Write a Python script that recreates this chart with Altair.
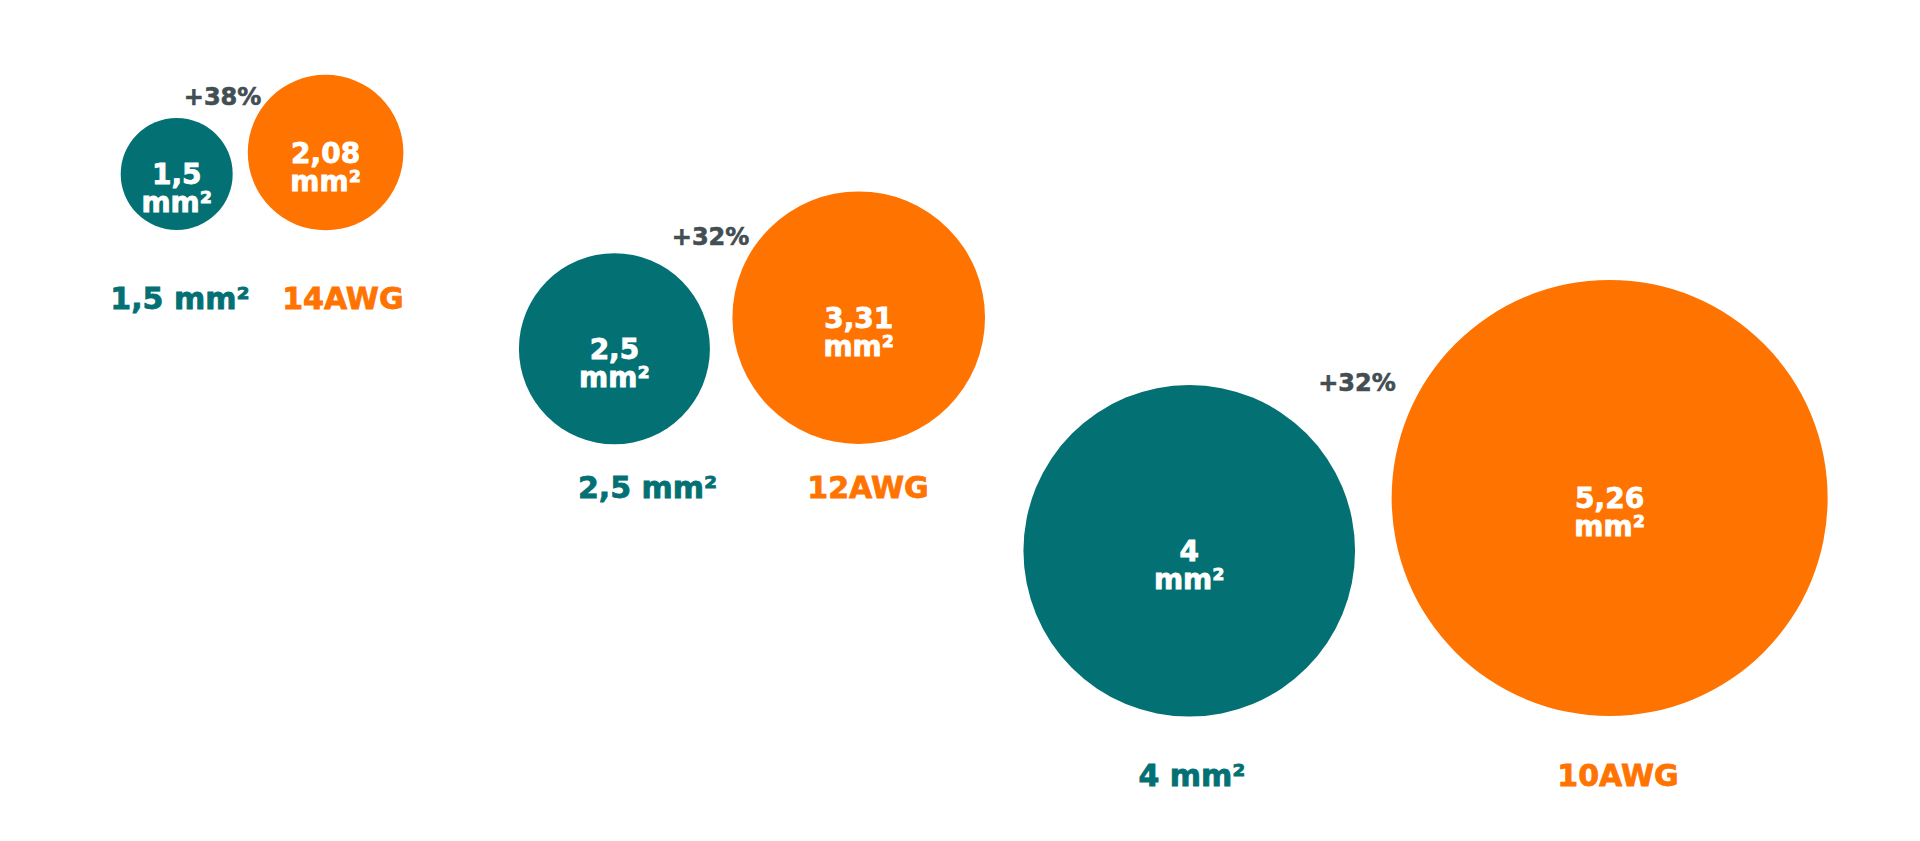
import altair as alt
import pandas as pd

# ---- data values ----
metric_sizes = ["1,5", "2,5", "4"]          # mm² (metric section)
metric_area = [1.5, 2.5, 4.0]
awg_names = ["14AWG", "12AWG", "10AWG"]
awg_area_txt = ["2,08", "3,31", "5,26"]
awg_area = [2.08, 3.31, 5.26]
increase = ["+38%", "+32%", "+32%"]

# ---- layout (percent of plot width / height, top-down) ----
metric_x = [8.86, 31.85, 62.04]
metric_y = [20.12, 41.30, 65.79]
awg_x = [16.68, 44.68, 84.12]
awg_y = [17.52, 37.54, 59.39]
metric_lab_x = [9.03, 33.59, 62.18]
awg_lab_x = [17.59, 45.17, 84.56]
lab_y = [35.39, 58.30, 93.21]
pct_x = [11.27, 36.90, 70.85]
pct_y = [10.85, 27.82, 45.58]

# bubble diameters (px), per area value (mm²)
size_domain = [1.5, 2.08, 2.5, 3.31, 4.0, 5.26]
diam_px = [112, 155.6, 191, 252.6, 331.6, 436]

TEAL = "#037073"
ORANGE = "#ff7300"
GRAY = "#434e53"
FONT = "DejaVu Sans"

circles = pd.DataFrame({
    "x": metric_x + awg_x,
    "y": metric_y + awg_y,
    "area": metric_area + awg_area,
    "kind": ["metric"] * 3 + ["awg"] * 3,
    "inner": [f"{s}\nmm²" for s in metric_sizes] + [f"{s}\nmm²" for s in awg_area_txt],
})

labels = pd.DataFrame({
    "x": metric_lab_x + awg_lab_x,
    "y": lab_y + lab_y,
    "text": [f"{s} mm²" for s in metric_sizes] + awg_names,
    "kind": ["metric"] * 3 + ["awg"] * 3,
})

pcts = pd.DataFrame({"x": pct_x, "y": pct_y, "text": increase})

xs = alt.Scale(domain=[0, 100])
ys = alt.Scale(domain=[0, 100], reverse=True)
cscale = alt.Scale(domain=["metric", "awg"], range=[TEAL, ORANGE])
X = alt.X("x:Q", scale=xs, axis=None)
Y = alt.Y("y:Q", scale=ys, axis=None)

circ = alt.Chart(circles).mark_circle(opacity=1).encode(
    x=X, y=Y, color=alt.Color("kind:N", scale=cscale, legend=None),
    size=alt.Size("area:Q", scale=alt.Scale(type="linear", zero=False, domain=size_domain,
                                            range=[d * d for d in diam_px]), legend=None),
)

inner = alt.Chart(circles).mark_text(
    font=FONT, fontWeight="bold", fontSize=28, color="white", stroke="white", strokeWidth=0.8,
    lineBreak="\n", lineHeight=28, align="center", baseline="middle", dy=2,
).encode(x=X, y=Y, text="inner:N")

lab = alt.Chart(labels).mark_text(
    font=FONT, fontWeight="bold", fontSize=30, align="center", baseline="middle", strokeWidth=0.8,
).encode(
    x=X, y=Y, text="text:N",
    fill=alt.Fill("kind:N", scale=cscale, legend=None),
    stroke=alt.Stroke("kind:N", scale=cscale, legend=None),
)

pct = alt.Chart(pcts).mark_text(
    font=FONT, fontWeight="bold", fontSize=24, align="center", baseline="middle", color=GRAY,
    stroke=GRAY, strokeWidth=0.6,
).encode(x=X, y=Y, text="text:N")

chart = alt.layer(circ, inner, lab, pct).properties(
    width=1904, height=825, padding=0,
    autosize=alt.AutoSizeParams(type="none"),
).configure_view(stroke=None)

chart.save("out.html", embed_options={"renderer": "svg", "actions": False})
